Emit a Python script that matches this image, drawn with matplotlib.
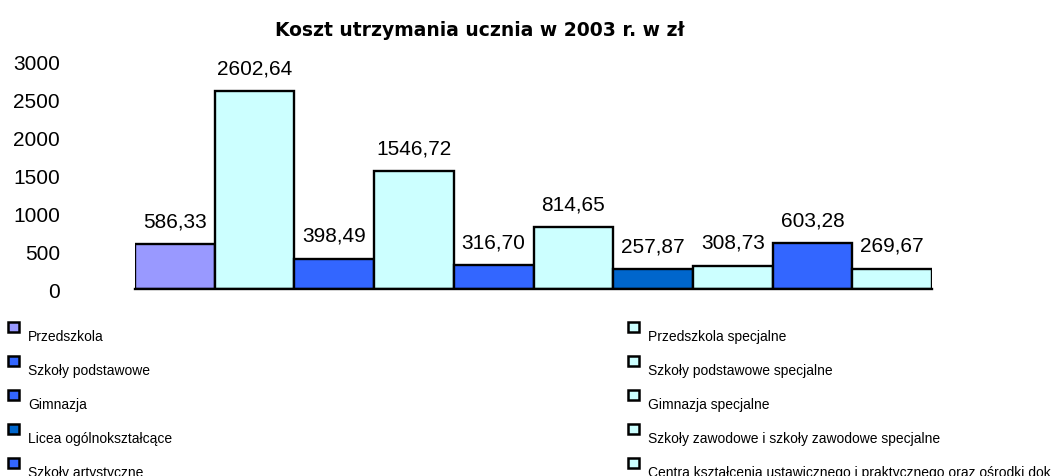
import matplotlib.pyplot as plt
from matplotlib.patches import Rectangle
import numpy as np

# data
CATEGORIES = ['Przedszkola', 'Przedszkola specjalne', 'Szkoły podstawowe',
              'Szkoły podstawowe specjalne', 'Gimnazja', 'Gimnazja specjalne',
              'Licea ogólnokształcące', 'Szkoły zawodowe i szkoły zawodowe specjalne',
              'Szkoły artystyczne',
              'Centra kształcenia ustawicznego i praktycznego oraz ośrodki dokształcania']
VALUES = [586.33, 2602.64, 398.49, 1546.72, 316.70, 814.65, 257.87, 308.73, 603.28, 269.67]
COLORS = ['#9999FF', '#CCFFFF', '#3366FF', '#CCFFFF', '#3366FF', '#CCFFFF',
          '#0066CC', '#CCFFFF', '#3366FF', '#CCFFFF']
YTICKS = [0, 500, 1000, 1500, 2000, 2500, 3000]

# legend order: left column then right column
LEFT_LEGEND = [0, 2, 4, 6, 8]
RIGHT_LEGEND = [1, 3, 5, 7, 9]

plt.rcParams['font.family'] = ['Liberation Sans', 'DejaVu Sans']

W, H = 1051, 477
fig = plt.figure(figsize=(W / 100, H / 100), dpi=100)
ax = fig.add_axes([135 / W, (H - 290) / H, 797 / W, 228 / H])

x = np.arange(len(VALUES))
ax.bar(x, VALUES, width=1.0, color=COLORS, edgecolor='black', linewidth=1.7, zorder=2)

for xi, v in zip(x, VALUES):
    ax.annotate(f'{v:.2f}'.replace('.', ','), (xi, v), xytext=(0, 10),
                textcoords='offset points', ha='center', va='bottom', fontsize=15)

ax.set_xlim(-0.5, len(VALUES) - 0.5)
ax.set_ylim(0, 3000)
ax.set_yticks(YTICKS)
ax.set_yticklabels([str(t) for t in YTICKS], fontsize=15)
ax.tick_params(axis='y', length=0, pad=54)
ax.set_xticks([])
for s in ['top', 'right', 'left']:
    ax.spines[s].set_visible(False)
ax.spines['bottom'].set_linewidth(1.7)
ax.spines['bottom'].set_zorder(3)

fig.text(480 / W, 1 - 30 / H, 'Koszt utrzymania ucznia w 2003 r. w zł',
         ha='center', va='center', fontsize=13.5, fontweight='bold',
         family=['DejaVu Sans'])

# legend drawn by hand (markers sit above the text, like the original)
row_y = [337, 371, 405, 439, 473]
for col_x, idxs in [(8, LEFT_LEGEND), (628, RIGHT_LEGEND)]:
    for ry, i in zip(row_y, idxs):
        fig.patches.append(Rectangle((col_x / W, 1 - (ry - 4) / H), 11 / W, 10 / H,
                                     transform=fig.transFigure, facecolor=COLORS[i],
                                     edgecolor='black', linewidth=1.8))
        fig.text((col_x + 20) / W, 1 - ry / H, CATEGORIES[i], ha='left', va='center',
                 fontsize=10)

fig.savefig('out.png', dpi=100)
